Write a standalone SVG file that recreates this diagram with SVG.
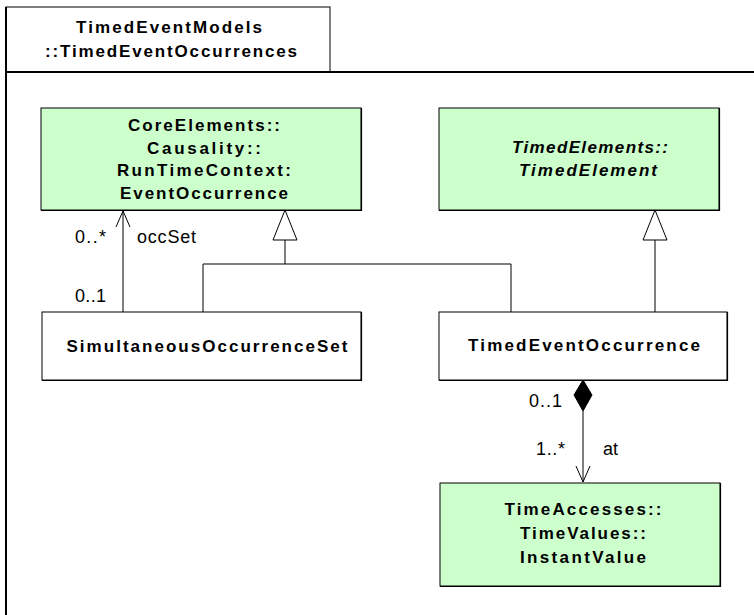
<svg xmlns="http://www.w3.org/2000/svg" width="754" height="615" viewBox="0 0 754 615">
<style>
.node{stroke:#000;stroke-width:1}
.cls{fill:#fff}
.ext{fill:#ccffcc}
.sh{fill:none;stroke:#000;stroke-width:1.2}
.t{font-family:"Liberation Sans",Arial,sans-serif;font-size:17px;font-weight:bold;fill:#000;text-anchor:middle}
.i{font-style:italic}
.lbl{font-family:"Liberation Sans",Arial,sans-serif;font-size:18px;fill:#000}
.ln{fill:none;stroke:#000;stroke-width:1}
</style>
<rect width="754" height="615" fill="#fff"/>
<g id="package">
<rect x="6" y="7" width="324" height="65" fill="#fff" stroke="#000" stroke-width="1"/>
<path d="M6 72 H760 M6 7 V620" fill="none" stroke="#000" stroke-width="2"/>
<text class="t" x="169" y="33" textLength="186" lengthAdjust="spacing">TimedEventModels</text>
<text class="t" x="171" y="57" textLength="252" lengthAdjust="spacing">::TimedEventOccurrences</text>
</g>
<g id="EventOccurrence">
<rect class="node ext" x="41" y="108" width="320" height="102"/>
<path class="sh" d="M361.5 108 V210.5 H41"/>
<text class="t" x="204" y="131" textLength="152" lengthAdjust="spacing">CoreElements::</text>
<text class="t" x="204" y="154" textLength="114" lengthAdjust="spacing">Causality::</text>
<text class="t" x="204" y="176" textLength="174" lengthAdjust="spacing">RunTimeContext:</text>
<text class="t" x="204" y="199" textLength="168" lengthAdjust="spacing">EventOccurrence</text>
</g>
<g id="TimedElement">
<rect class="node ext" x="439" y="108" width="280" height="102"/>
<path class="sh" d="M719.5 108 V210.5 H439"/>
<text class="t i" x="590" y="153" textLength="156" lengthAdjust="spacing">TimedElements::</text>
<text class="t i" x="588" y="176" textLength="138" lengthAdjust="spacing">TimedElement</text>
</g>
<g id="SimultaneousOccurrenceSet">
<rect class="node cls" x="42" y="312" width="319" height="68"/>
<path class="sh" d="M361.5 312 V380.5 H42"/>
<text class="t" x="207" y="352" textLength="281" lengthAdjust="spacing">SimultaneousOccurrenceSet</text>
</g>
<g id="TimedEventOccurrence">
<rect class="node cls" x="439" y="312" width="288" height="68"/>
<path class="sh" d="M727.5 312 V380.5 H439"/>
<text class="t" x="584" y="351" textLength="232" lengthAdjust="spacing">TimedEventOccurrence</text>
</g>
<g id="InstantValue">
<rect class="node ext" x="440" y="483" width="280" height="103"/>
<path class="sh" d="M720.5 483 V586.5 H440"/>
<text class="t" x="583" y="515" textLength="157" lengthAdjust="spacing">TimeAccesses::</text>
<text class="t" x="583" y="539" textLength="126" lengthAdjust="spacing">TimeValues::</text>
<text class="t" x="583" y="563" textLength="126" lengthAdjust="spacing">InstantValue</text>
</g>
<g id="connectors">
<path class="ln" d="M123 312 V211"/>
<path class="ln" d="M116 227 L123 211 L130 227"/>
<path class="ln" d="M203 312 V264 H511 V312"/>
<path class="ln" d="M285 264 V240"/>
<path d="M285 210 L273 240 H297 Z" fill="#fff" stroke="#000" stroke-width="1"/>
<path class="ln" d="M655 312 V240"/>
<path d="M655 210 L643 240 H667 Z" fill="#fff" stroke="#000" stroke-width="1"/>
<path d="M583 380 L592 395 L583 411 L574 395 Z" fill="#000" stroke="#000" stroke-width="1"/>
<path class="ln" d="M583 411 V482"/>
<path class="ln" d="M576 466 L583 482 L590 466"/>
<text class="lbl" x="75" y="243" textLength="31" lengthAdjust="spacing">0..*</text>
<text class="lbl" x="137" y="243" textLength="59" lengthAdjust="spacing">occSet</text>
<text class="lbl" x="75" y="302" textLength="31" lengthAdjust="spacing">0..1</text>
<text class="lbl" x="529" y="407" textLength="33" lengthAdjust="spacing">0..1</text>
<text class="lbl" x="536" y="455" textLength="29" lengthAdjust="spacing">1..*</text>
<text class="lbl" x="603" y="455">at</text>
</g>
</svg>
